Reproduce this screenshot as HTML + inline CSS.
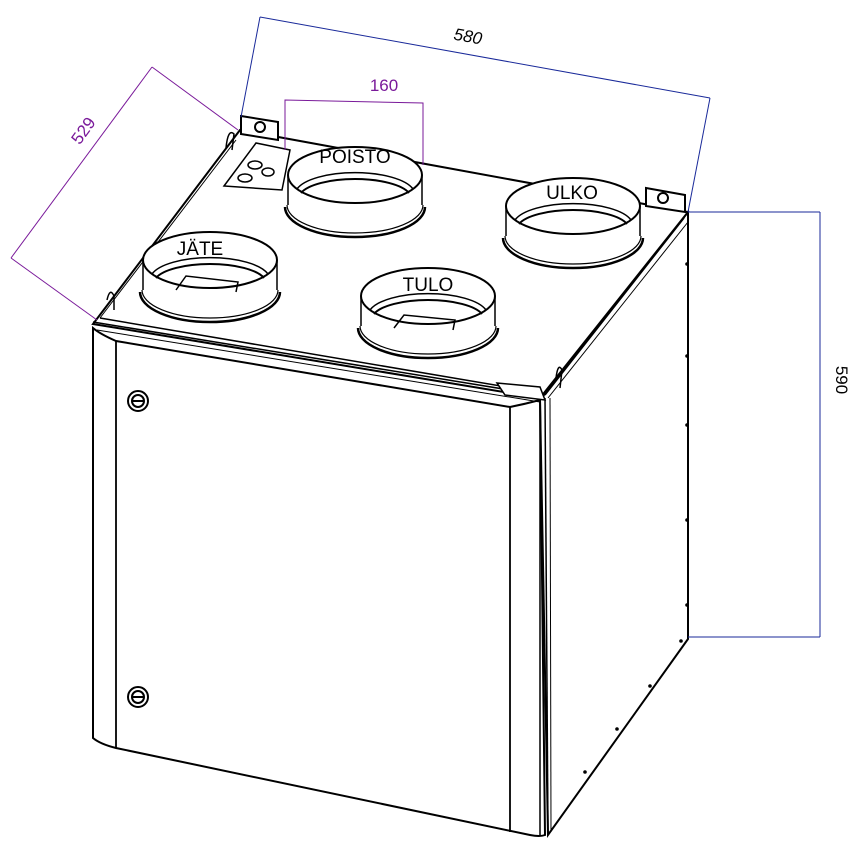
<!DOCTYPE html>
<html><head><meta charset="utf-8"><style>
html,body{margin:0;padding:0;background:#fff;}
svg{display:block;}
text{font-family:"Liberation Sans",sans-serif;}
</style></head><body>
<svg width="850" height="845" viewBox="0 0 850 845" xmlns="http://www.w3.org/2000/svg">
<defs>
<g id="duct">
  <!-- flange bottom -->
  <path d="M-70,0 A70,30 0 0 0 70,0" fill="none" stroke="#000" stroke-width="2.5"/>
  <path d="M-68,-2 A68,28 0 0 0 68,-2" fill="none" stroke="#000" stroke-width="1.2"/>
  <line x1="-67" y1="-32" x2="-67" y2="-2" stroke="#000" stroke-width="1.5"/>
  <line x1="67" y1="-32" x2="67" y2="-2" stroke="#000" stroke-width="1.5"/>
  <ellipse cx="0" cy="-32" rx="67" ry="28" fill="#fff" stroke="#000" stroke-width="2"/>
  <path d="M-58,-18 A60,22 0 0 1 58,-18" fill="none" stroke="#000" stroke-width="1.5"/>
  <path d="M-54,-14 A56,19 0 0 1 54,-14" fill="none" stroke="#000" stroke-width="2"/>
</g>
</defs>

<!-- right side face -->
<polygon points="540,400 688,212 688,639 548,835" fill="#fff" stroke="#000" stroke-width="2"/>
<!-- top face -->
<polygon points="240,130 688,212 540,398 93,324" fill="#fff" stroke="#000" stroke-width="2"/>
<line x1="100" y1="318" x2="536" y2="392" stroke="#000" stroke-width="1.5"/>
<line x1="545" y1="395" x2="684" y2="218" stroke="#000" stroke-width="1.5"/>
<line x1="548" y1="398" x2="688" y2="222" stroke="#000" stroke-width="1"/>
<line x1="236" y1="140" x2="100" y2="318" stroke="#000" stroke-width="1"/>

<!-- right side dots -->
<g fill="#000">
<circle cx="687" cy="264" r="1.8"/><circle cx="687" cy="356" r="1.8"/><circle cx="687" cy="425" r="1.8"/>
<circle cx="687" cy="520" r="1.8"/><circle cx="687" cy="605" r="1.8"/>
<circle cx="681" cy="641" r="1.8"/><circle cx="650" cy="686" r="1.8"/><circle cx="617" cy="729" r="1.8"/><circle cx="585" cy="772" r="1.8"/>
</g>

<!-- front panel -->
<path d="M93,328 Q100,334 116,341 L510,407 Q525,404 540,400 L545,835 Q540,837 530,835 L116,748 Q100,744 93,738 Z" fill="#fff" stroke="#000" stroke-width="2"/>
<line x1="116" y1="341" x2="116" y2="748" stroke="#000" stroke-width="1.8"/>
<line x1="510" y1="407" x2="510" y2="832" stroke="#000" stroke-width="1.8"/>
<line x1="540" y1="400" x2="540" y2="835" stroke="#000" stroke-width="1.5"/>
<line x1="545" y1="398" x2="548" y2="835" stroke="#000" stroke-width="1.5"/>
<line x1="550" y1="398" x2="551" y2="832" stroke="#000" stroke-width="1"/>
<line x1="93" y1="322" x2="540" y2="395" stroke="#000" stroke-width="1.5"/>
<line x1="97" y1="330" x2="540" y2="402" stroke="#000" stroke-width="1"/>
<!-- knobs -->
<g fill="#fff" stroke="#000" stroke-width="2">
<circle cx="138" cy="401" r="10"/><circle cx="138" cy="401" r="6"/>
<circle cx="138" cy="697" r="10"/><circle cx="138" cy="697" r="6"/>
</g>
<line x1="132" y1="401" x2="144" y2="401" stroke="#000" stroke-width="2"/>
<line x1="132" y1="697" x2="144" y2="697" stroke="#000" stroke-width="2"/>

<!-- brackets -->
<polygon points="241,116 278,122 278,140 241,134" fill="#fff" stroke="#000" stroke-width="2"/>
<circle cx="260" cy="127" r="5" fill="#fff" stroke="#000" stroke-width="2"/>
<polygon points="646,188 685,195 685,212 646,206" fill="#fff" stroke="#000" stroke-width="2"/>
<circle cx="663" cy="198" r="5" fill="#fff" stroke="#000" stroke-width="2"/>
<polygon points="497,383 540,387 545,400 505,395" fill="#fff" stroke="#000" stroke-width="1.5"/>
<path d="M107,300 Q110,287 114,296 L114,310" fill="none" stroke="#000" stroke-width="1.5"/>
<path d="M226,148 Q228,128 234,134 L232,150" fill="none" stroke="#000" stroke-width="1.5"/>
<path d="M556,378 Q558,362 562,370 L560,388" fill="none" stroke="#000" stroke-width="1.5"/>
<!-- control box -->
<polygon points="224,186 256,143 290,150 282,190" fill="#fff" stroke="#000" stroke-width="1.5"/>
<ellipse cx="255" cy="165" rx="7" ry="4" fill="none" stroke="#000" stroke-width="1.5"/>
<ellipse cx="245" cy="178" rx="7" ry="4" fill="none" stroke="#000" stroke-width="1.5"/>
<ellipse cx="268" cy="172" rx="6" ry="4" fill="none" stroke="#000" stroke-width="1.5"/>

<!-- ducts -->
<use href="#duct" x="355" y="207"/>
<use href="#duct" x="573" y="238"/>
<use href="#duct" x="210" y="292"/>
<use href="#duct" x="428" y="328"/>
<!-- inner grilles -->
<path d="M176,290 L186,276 L238,282 L236,292" fill="none" stroke="#000" stroke-width="1.5"/>
<path d="M394,328 L404,315 L455,320 L453,330" fill="none" stroke="#000" stroke-width="1.5"/>

<text x="355" y="163" font-size="19" text-anchor="middle">POISTO</text>
<text x="572" y="199" font-size="19" text-anchor="middle">ULKO</text>
<text x="200" y="255" font-size="19" text-anchor="middle">JÄTE</text>
<text x="428" y="291" font-size="19" text-anchor="middle">TULO</text>

<!-- dimension 580 -->
<g stroke="#1a2a9a" stroke-width="1" fill="none">
<line x1="260" y1="17" x2="710" y2="98"/>
<line x1="260" y1="17" x2="241" y2="117"/>
<line x1="710" y1="98" x2="688" y2="212"/>
<line x1="688" y1="212" x2="820" y2="212"/>
<line x1="688" y1="637" x2="820" y2="637"/>
<line x1="820" y1="212" x2="820" y2="637"/>
</g>
<text x="467" y="42" font-size="17" text-anchor="middle" transform="rotate(10 467 42)" font-style="italic">580</text>
<text x="836" y="380" font-size="17" text-anchor="middle" transform="rotate(90 836 380)">590</text>

<!-- dimension 160 & 529 -->
<g stroke="#7a1a9a" stroke-width="1" fill="none">
<polyline points="285,150 285,100 423,103 423,165"/>
<line x1="152" y1="67" x2="11" y2="258"/>
<line x1="152" y1="67" x2="238" y2="130"/>
<line x1="11" y1="258" x2="97" y2="320"/>
</g>
<text x="384" y="91" font-size="17" fill="#7a1a9a" text-anchor="middle">160</text>
<text x="88" y="134" font-size="17" fill="#7a1a9a" text-anchor="middle" transform="rotate(-54 88 134)">529</text>
</svg>
</body></html>
